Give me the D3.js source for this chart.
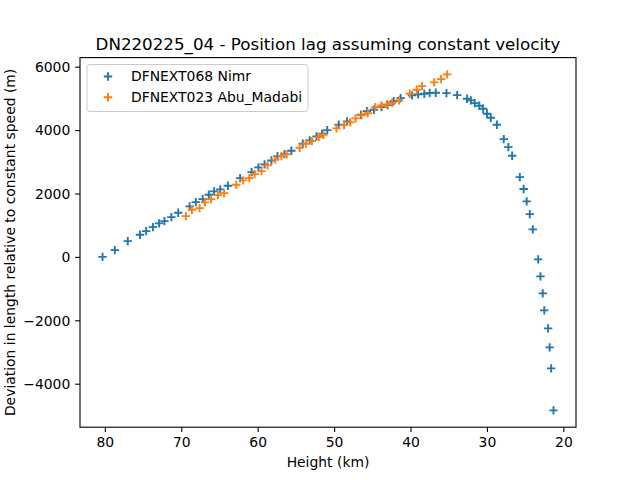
<!DOCTYPE html>
<html><head><meta charset="utf-8">
<script src="https://cdn.jsdelivr.net/npm/d3@7"></script>
<style>body{margin:0;background:#fff;} text{font-family:"DejaVu Sans",sans-serif;fill:#000;}</style>
</head><body>
<svg id="c" width="640" height="480"></svg>
<script>
const title = "DN220225_04 - Position lag assuming constant velocity";
const xLabel = "Height (km)";
const yLabel = "Deviation in length relative to constant speed (m)";
const seriesNames = ["DFNEXT068 Nimr", "DFNEXT023 Abu_Madabi"];
const seriesColors = ["#1f77b4", "#ff7f0e"];
const xTicks = [80, 70, 60, 50, 40, 30, 20];
const yTicks = [-4000, -2000, 0, 2000, 4000, 6000];

const nimrHeight = [80.3,78.7,77.0,75.4,74.6,73.7,72.9,72.2,71.3,70.4,68.9,68.1,67.2,66.4,65.7,64.9,63.9,62.3,60.8,59.9,59.1,58.2,57.4,56.5,55.6,54.1,53.2,52.3,51.6,50.9,49.4,48.3,46.5,45.7,44.8,43.8,43.0,42.2,41.3,39.8,39.0,38.2,37.5,36.7,35.3,33.9,32.6,32.1,31.6,31.0,30.5,30.0,29.5,28.7,27.8,27.2,26.7,25.7,25.2,24.8,24.4,24.0,23.3,23.0,22.7,22.5,22.0,21.8,21.6,21.3];
const nimrDev = [0,215,498,700,814,940,1057,1129,1256,1394,1593,1729,1823,1962,2066,2129,2246,2486,2675,2823,2918,3040,3175,3243,3350,3571,3675,3801,3886,4000,4170,4274,4486,4600,4640,4726,4790,4915,5010,5095,5126,5148,5170,5180,5167,5104,4991,4937,4852,4770,4675,4517,4391,4170,3716,3464,3192,2517,2140,1751,1350,868,-79,-615,-1151,-1688,-2256,-2855,-3517,-4842];

const abuHeight = [69.4,68.6,67.6,66.9,66.1,65.2,64.4,62.8,61.9,61.1,60.4,59.5,58.7,57.7,56.9,56.2,54.5,53.7,52.9,52.0,51.4,49.7,48.7,47.9,47.2,46.4,45.6,44.6,43.8,43.1,42.4,41.5,40.1,39.2,38.5,36.9,36.0,35.2];
const abuDev = [1287,1489,1539,1719,1823,1950,2013,2278,2413,2486,2612,2707,2886,3070,3180,3233,3445,3571,3653,3779,3855,4054,4158,4243,4369,4470,4530,4726,4779,4811,4864,4937,5148,5274,5388,5505,5609,5757];

const series = [
  {name: seriesNames[0], color: seriesColors[0], xs: nimrHeight, ys: nimrDev},
  {name: seriesNames[1], color: seriesColors[1], xs: abuHeight, ys: abuDev}
];

const L = 80, R = 576, T = 57.6, B = 427.2;
const svg = d3.select("#c");

const allX = nimrHeight.concat(abuHeight), allY = nimrDev.concat(abuDev);
const xmin = d3.min(allX), xmax = d3.max(allX), ymin = d3.min(allY), ymax = d3.max(allY);
const xm = (xmax - xmin) * 0.05, ym = (ymax - ymin) * 0.05;
const x = d3.scaleLinear().domain([xmax + xm, xmin - xm]).range([L, R]);
const y = d3.scaleLinear().domain([ymin - ym, ymax + ym]).range([B, T]);

const xAxis = svg.append("g").attr("transform", `translate(0,${B})`)
  .call(d3.axisBottom(x).tickValues(xTicks).tickSize(4.86).tickPadding(4.9).tickFormat(d3.format("d")));
const yAxis = svg.append("g").attr("transform", `translate(${L},0)`)
  .call(d3.axisLeft(y).tickValues(yTicks).tickSize(4.86).tickPadding(4.9).tickFormat(d3.format("d")));
[xAxis, yAxis].forEach(a => {
  a.select(".domain").remove();
  a.selectAll("line").attr("stroke", "#000").attr("stroke-width", 1.1);
  a.selectAll("text").style("font-size", "13.9px").style("font-family", "DejaVu Sans");
});
xAxis.selectAll("text").attr("dy", "0.71em");
yAxis.selectAll("text").attr("dy", "0.35em");

const ms = 4.2;
series.forEach(s => {
  const g = svg.append("g");
  s.xs.forEach((hv, i) => {
    const cx = x(hv), cy = y(s.ys[i]);
    g.append("path")
      .attr("d", `M${cx - ms},${cy}H${cx + ms}M${cx},${cy - ms}V${cy + ms}`)
      .attr("stroke", s.color).attr("stroke-width", 1.9).attr("fill", "none");
  });
});

svg.append("rect").attr("x", L).attr("y", T).attr("width", R - L).attr("height", B - T)
  .attr("fill", "none").attr("stroke", "#000").attr("stroke-width", 1.1);

svg.append("text").attr("x", (L + R) / 2).attr("y", 50).attr("text-anchor", "middle")
  .style("font-size", "16.7px").text(title);
svg.append("text").attr("x", (L + R) / 2).attr("y", 467).attr("text-anchor", "middle")
  .style("font-size", "13.9px").text(xLabel);
svg.append("text").attr("transform", `translate(15,${(T + B) / 2}) rotate(-90)`).attr("text-anchor", "middle")
  .style("font-size", "13.9px").text(yLabel);

const lg = svg.append("g");
lg.append("rect").attr("x", 87).attr("y", 64.5).attr("width", 221).attr("height", 47).attr("rx", 3)
  .attr("fill", "#fff").attr("fill-opacity", 0.8).attr("stroke", "#cccccc").attr("stroke-width", 1);
series.forEach((s, i) => {
  const cy = 76.5 + i * 20.8, cx = 108;
  lg.append("path").attr("d", `M${cx - ms},${cy}H${cx + ms}M${cx},${cy - ms}V${cy + ms}`)
    .attr("stroke", s.color).attr("stroke-width", 1.9);
  lg.append("text").attr("x", 131).attr("y", cy).attr("dy", "0.35em")
    .style("font-size", "13.9px").text(s.name);
});
</script>
</body></html>
